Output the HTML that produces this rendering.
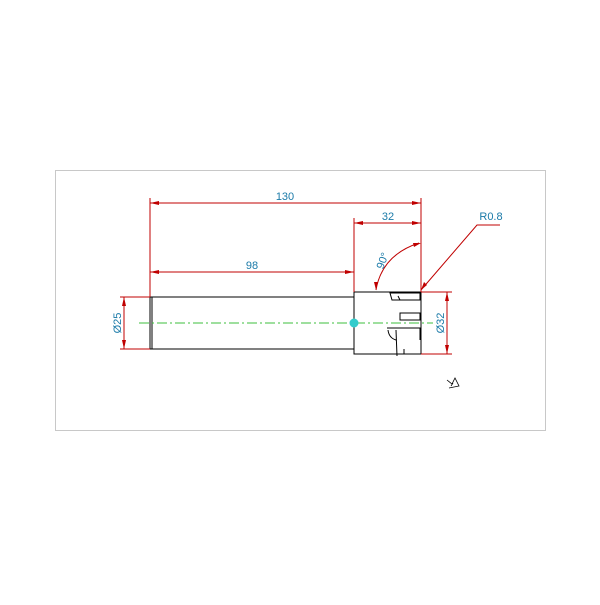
<!DOCTYPE html>
<html><head><style>body{margin:0;background:#fff}</style></head><body>
<svg width="600" height="600" xmlns="http://www.w3.org/2000/svg" font-family="Liberation Sans, sans-serif">
<rect x="55.5" y="170.5" width="490" height="260" fill="none" stroke="#c8c8c8"/>
<g stroke="#000" fill="none" stroke-width="1">
<rect x="150" y="297" width="204" height="52"/>
<line x1="152" y1="297" x2="152" y2="349"/>
<rect x="354" y="292" width="67" height="62"/>
<path d="M390 293 L420 293 L420 300 L392 300 Z M400 300 L398 296 M408 313 L420 313 L420 320 L400 320 L400 313 Z M387 328 L420 328 L420 340 M396 330 L397 356 M388 330 Q389 338 396 340 M404 349 L404 354"/>
</g>
<line x1="139" y1="323" x2="433" y2="323" stroke="#3cbf3c" stroke-dasharray="10,3,2,3"/>
<circle cx="354" cy="323" r="4.5" fill="#33cccc"/>
<g stroke="#c00000" fill="none" stroke-width="1">
<line x1="150" y1="198" x2="150" y2="297"/>
<line x1="354" y1="218" x2="354" y2="292"/>
<line x1="421" y1="198" x2="421" y2="292"/>
<line x1="150" y1="203" x2="421" y2="203"/>
<line x1="354" y1="223" x2="421" y2="223"/>
<line x1="150" y1="272" x2="354" y2="272"/>
<line x1="120" y1="297" x2="150" y2="297"/><line x1="120" y1="349" x2="150" y2="349"/>
<line x1="124" y1="297" x2="124" y2="349"/>
<line x1="421" y1="292" x2="452" y2="292"/><line x1="421" y1="354" x2="452" y2="354"/>
<line x1="447" y1="292" x2="447" y2="354"/>
<path d="M376 290 Q382 255 419 243"/>
<path d="M421 290 L477 225 L500 225"/>
</g>
<g fill="#c00000">
<path d="M150 203 l9 -2 v4z M421 203 l-9 -2 v4z M354 223 l9 -2 v4z M421 223 l-9 -2 v4z M150 272 l9 -2 v4z M354 272 l-9 -2 v4z"/>
<path d="M124 297 l-2 9 h4z M124 349 l-2 -9 h4z M447 292 l-2 9 h4z M447 354 l-2 -9 h4z"/>
<path d="M421 243 l-8 0 l1 4z M376 290 l-2 -8 l4 0z M421 290 l3 -8 l3 3z"/>
</g>
<g fill="#1a7aa8" font-size="11">
<text x="285" y="200" text-anchor="middle">130</text>
<text x="388" y="220" text-anchor="middle">32</text>
<text x="252" y="269" text-anchor="middle">98</text>
<text x="491" y="220" text-anchor="middle">R0.8</text>
<text transform="translate(386,262) rotate(-70)" text-anchor="middle">90°</text>
<text transform="translate(121,323) rotate(-90)" text-anchor="middle">Ø25</text>
<text transform="translate(444,323) rotate(-90)" text-anchor="middle">Ø32</text>
</g>
<path d="M447 380 l5 4 l3 -6 l4 8 l-10 2 M451 386 l2 -3" stroke="#000" fill="none" stroke-width="0.8"/>
</svg>
</body></html>
